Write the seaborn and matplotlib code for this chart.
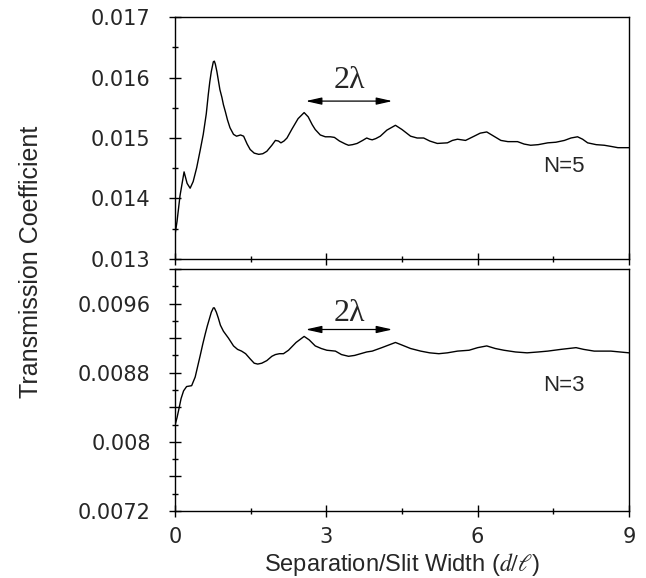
import matplotlib
matplotlib.use("Agg")
import matplotlib.pyplot as plt
import seaborn as sns
import pandas as pd
from matplotlib.ticker import FixedLocator, FixedFormatter, MultipleLocator

# ---------------- data ----------------
x_n5 = [0.00, 0.04, 0.10, 0.18, 0.24, 0.30, 0.36, 0.43, 0.50, 0.56, 0.62, 0.66, 0.69, 0.72,
        0.76, 0.78, 0.80, 0.83, 0.86, 0.89, 0.93, 0.96, 1.00, 1.04, 1.09, 1.16, 1.22, 1.30,
        1.36, 1.43, 1.49, 1.57, 1.66, 1.74, 1.82, 1.92, 1.99, 2.05, 2.10, 2.16, 2.22, 2.32,
        2.44, 2.56, 2.64, 2.72, 2.78, 2.88, 2.98, 3.08, 3.16, 3.26, 3.38, 3.44, 3.52, 3.61,
        3.72, 3.80, 3.86, 3.91, 3.98, 4.07, 4.20, 4.37, 4.50, 4.67, 4.80, 4.93, 5.05, 5.20,
        5.40, 5.50, 5.60, 5.76, 5.93, 6.05, 6.18, 6.30, 6.46, 6.60, 6.79, 6.92, 7.05, 7.20,
        7.39, 7.55, 7.72, 7.85, 7.98, 8.08, 8.18, 8.35, 8.51, 8.65, 8.78, 9.00]
t_n5 = [0.01340, 0.01362, 0.01405, 0.01444, 0.01425, 0.01417, 0.01428, 0.01451, 0.01480,
        0.01506, 0.01540, 0.01572, 0.01593, 0.01610, 0.01626, 0.01627, 0.01622, 0.01610,
        0.01595, 0.01580, 0.01567, 0.01555, 0.01543, 0.01530, 0.01517, 0.01506, 0.01503,
        0.01505, 0.01503, 0.01490, 0.01481, 0.01475, 0.01473, 0.01474, 0.01478, 0.01488,
        0.01496, 0.01495, 0.01492, 0.01495, 0.01500, 0.01515, 0.01532, 0.01542, 0.01535,
        0.01522, 0.01514, 0.01505, 0.01502, 0.01502, 0.01501, 0.01495, 0.01490, 0.01488,
        0.01489, 0.01491, 0.01496, 0.01500, 0.01498, 0.01497, 0.01499, 0.01503, 0.01513,
        0.01521, 0.01514, 0.01503, 0.01500, 0.01500, 0.01495, 0.01491, 0.01492, 0.01496,
        0.01498, 0.01496, 0.01503, 0.01508, 0.01510, 0.01504, 0.01496, 0.01494, 0.01494,
        0.01490, 0.01488, 0.01489, 0.01492, 0.01493, 0.01496, 0.01500, 0.01502, 0.01498,
        0.01492, 0.01489, 0.01488, 0.01486, 0.01484, 0.01484]

x_n3 = [0.00, 0.04, 0.07, 0.12, 0.17, 0.23, 0.33, 0.40, 0.50, 0.55, 0.60, 0.64, 0.68, 0.72,
        0.76, 0.78, 0.82, 0.86, 0.90, 0.96, 1.06, 1.16, 1.24, 1.32, 1.40, 1.49, 1.57, 1.64,
        1.72, 1.82, 1.92, 1.99, 2.07, 2.15, 2.25, 2.40, 2.56, 2.66, 2.78, 2.90, 3.01, 3.18,
        3.30, 3.44, 3.56, 3.68, 3.80, 3.91, 4.10, 4.37, 4.50, 4.67, 4.87, 5.05, 5.23, 5.40,
        5.60, 5.83, 6.00, 6.18, 6.35, 6.52, 6.75, 6.98, 7.20, 7.39, 7.65, 7.95, 8.10, 8.31,
        8.64, 9.00]
t_n3 = [0.00819, 0.00828, 0.00836, 0.00850, 0.00859, 0.00864, 0.00865, 0.00875, 0.00900,
        0.00913, 0.00925, 0.00934, 0.00942, 0.00950, 0.00955, 0.00955, 0.00950, 0.00943,
        0.00935, 0.00928, 0.00920, 0.00911, 0.00907, 0.00905, 0.00902, 0.00896, 0.00891,
        0.00890, 0.00891, 0.00894, 0.00899, 0.00901, 0.00902, 0.00902, 0.00906, 0.00915,
        0.00922, 0.00918, 0.00911, 0.00908, 0.00906, 0.00905, 0.00901, 0.00899, 0.00900,
        0.00902, 0.00904, 0.00905, 0.00909, 0.00915, 0.00912, 0.00908, 0.00905, 0.00903,
        0.00902, 0.00903, 0.00905, 0.00906, 0.00909, 0.00911, 0.00908, 0.00906, 0.00904,
        0.00903, 0.00904, 0.00905, 0.00907, 0.00909, 0.00907, 0.00905, 0.00905, 0.00903]

top_yticks = [0.013, 0.014, 0.015, 0.016, 0.017]
top_yticklabels = ["0.013", "0.014", "0.015", "0.016", "0.017"]
bot_yticks = [0.0072, 0.0076, 0.0080, 0.0084, 0.0088, 0.0092, 0.0096, 0.0100]
bot_yticklabels = ["0.0072", "", "0.008", "", "0.0088", "", "0.0096", ""]
xticks = [0, 3, 6, 9]
xticklabels = ["0", "3", "6", "9"]
panel_labels = ["N=5", "N=3"]
span_label = "2λ"
span_x = [2.59, 4.31]

# ---------------- style ----------------
sns.set_style("ticks")
plt.rcParams["font.family"] = ["DejaVu Sans"]
plt.rcParams["mathtext.fontset"] = "stix"
plt.rcParams["axes.linewidth"] = 1.0
plt.rcParams["axes.edgecolor"] = "black"

fig = plt.figure(figsize=(6.46, 5.78), dpi=100)
ax_top = fig.add_axes([175 / 646, 1 - 259 / 578, 454 / 646, 242 / 578])
ax_bot = fig.add_axes([175 / 646, 1 - 511 / 578, 454 / 646, 242 / 578])

df5 = pd.DataFrame({"x": x_n5, "t": t_n5})
df3 = pd.DataFrame({"x": x_n3, "t": t_n3})
sns.lineplot(data=df5, x="x", y="t", ax=ax_top, color="black", linewidth=1.0)
sns.lineplot(data=df3, x="x", y="t", ax=ax_bot, color="black", linewidth=1.0)

for ax in (ax_top, ax_bot):
    ax.set_xlim(0, 9)
    ax.set_xlabel("")
    ax.set_ylabel("")
    for s in ax.spines.values():
        s.set_visible(True)
        s.set_color("black")
        s.set_linewidth(1.0)
    ax.xaxis.set_major_locator(FixedLocator(xticks))
    ax.xaxis.set_minor_locator(MultipleLocator(1.5))
    ax.tick_params(which="both", direction="inout", color="black", top=False, right=False)
    ax.tick_params(which="major", length=9, width=1.0, labelsize=15)
    ax.tick_params(which="minor", length=5, width=1.0)
    ax.tick_params(axis="y", which="major", pad=13)
    ax.tick_params(axis="x", which="major", pad=7)

ax_top.set_ylim(0.013, 0.017)
ax_top.yaxis.set_major_locator(FixedLocator(top_yticks))
ax_top.yaxis.set_major_formatter(FixedFormatter(top_yticklabels))
ax_top.yaxis.set_minor_locator(MultipleLocator(0.0005))
ax_top.tick_params(axis="x", labelbottom=False)

ax_bot.set_ylim(0.0072, 0.0100)
ax_bot.yaxis.set_major_locator(FixedLocator(bot_yticks))
ax_bot.yaxis.set_major_formatter(FixedFormatter(bot_yticklabels))
ax_bot.yaxis.set_minor_locator(MultipleLocator(0.0002))
ax_bot.xaxis.set_major_formatter(FixedFormatter(xticklabels))

# annotations
arrow_kw = dict(arrowstyle="<|-|>,head_length=0.8,head_width=0.18", color="black",
                lw=0.9, mutation_scale=12, shrinkA=0, shrinkB=0)
serif = ["Liberation Serif", "DejaVu Serif"]
sans = ["Liberation Sans", "DejaVu Sans"]
ax_top.annotate("", xy=(span_x[0], 0.01561), xytext=(span_x[1], 0.01561), arrowprops=arrow_kw)
ax_top.text(sum(span_x) / 2, 0.01595, span_label, ha="center", va="center",
            fontsize=23, family=serif)
ax_bot.annotate("", xy=(span_x[0], 0.00930), xytext=(span_x[1], 0.00930), arrowprops=arrow_kw)
ax_bot.text(sum(span_x) / 2, 0.00949, span_label, ha="center", va="center",
            fontsize=23, family=serif)

ax_top.text(7.71, 0.014537, panel_labels[0], ha="center", va="center", fontsize=16,
            family=sans)
ax_bot.text(7.71, 0.008654, panel_labels[1], ha="center", va="center", fontsize=16,
            family=sans)

ax_bot.set_xlabel(r"Separation/Slit Width ($d/\ell$)", fontsize=17, family=sans,
                  labelpad=3)
fig.text(31 / 646, 1 - 262 / 578, "Transmission Coefficient", rotation=90,
         ha="center", va="center", fontsize=18, family=sans)

fig.savefig("out.png", dpi=100)
